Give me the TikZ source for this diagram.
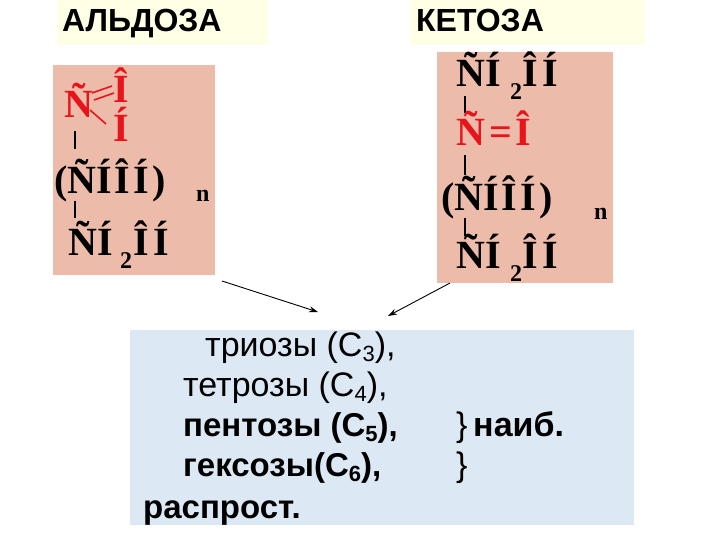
\documentclass[tikz,border=0pt]{standalone}
\usepackage{fontspec}
\usetikzlibrary{arrows.meta}
\setmainfont{Liberation Serif}
\newfontfamily\arial{Liberation Sans}
\begin{document}
\begin{tikzpicture}[x=1pt,y=-1pt,
  form/.style={font=\fontsize{40}{40}\selectfont\bfseries,anchor=base west,inner sep=0},
  sub/.style={font=\fontsize{24}{24}\selectfont\bfseries,anchor=base west,inner sep=0},
  red/.style={text=redc},
  lbl/.style={font=\arial\fontsize{34}{34}\selectfont,anchor=base west,inner sep=0},
  lblb/.style={font=\arial\bfseries\fontsize{33}{33}\selectfont,anchor=base west,inner sep=0},
  ttl/.style={font=\arial\bfseries\fontsize{32}{32}\selectfont,anchor=base west,inner sep=0},
  bond/.style={line width=1.6pt},
  arr/.style={-{Stealth[length=9pt,width=6pt]},line width=0.9pt}]
\definecolor{pink0}{HTML}{EDBBA9}
\definecolor{redc}{HTML}{E8141C}
\definecolor{blue0}{HTML}{DCE8F4}
\definecolor{yel}{HTML}{FFFFE6}
\useasboundingbox (0,0) rectangle (720,540);
\fill[white] (0,0) rectangle (720,540);
% titles
\fill[yel] (57,0) rectangle (268,45);
\fill[yel] (410,0) rectangle (645,45);
\node[ttl] (t1) at (62,32) {АЛЬДОЗА};
\node[ttl] (t2) at (416,32) {КЕТОЗА};
% pink boxes
\fill[pink0] (53,65) rectangle (215,275);
\fill[pink0] (437,52) rectangle (613,283);
% left formula
\node[form,red] (a1) at (64,118) {Ñ};
\node[form,red] (a2) at (113,103) {Î};
\node[form,red] (a3) at (113,142) {Í};
\draw[redc,line width=1.6pt] (92,93) -- (112,86) (94,100) -- (114,93);
\draw[redc,line width=1.6pt] (90,110) -- (106,124);
\draw[bond] (75,131) -- (75,149);
\node[form] (a4) at (54,194) {(ÑÍ\hspace{3pt}Î\hspace{3pt}Í\hspace{3pt})};
\node[sub] (an) at (196,202) {n};
\draw[bond] (75,201) -- (75,218);
\node[form] (a5) at (68,255) {ÑÍ};
\node[sub] (a52) at (120,268) {2};
\node[form] (a6) at (133,255) {Î\hspace{5pt}Í};
% right formula
\node[form] (b1) at (456,87) {ÑÍ};
\node[sub] (b12) at (510,100) {2};
\node[form] (b13) at (522,87) {Î\hspace{5pt}Í};
\draw[bond] (465,96) -- (465,113);
\node[form,red] (b2) at (456,146) {Ñ\hspace{4pt}=\hspace{4pt}Î};
\draw[bond] (465,155) -- (465,175);
\node[form] (b3) at (441,211) {(ÑÍ\hspace{3pt}Î\hspace{3pt}Í\hspace{3pt})};
\node[sub] (bn) at (594,219) {n};
\draw[bond] (465,218) -- (465,236);
\node[form] (b4) at (456,268) {ÑÍ};
\node[sub] (b42) at (510,281) {2};
\node[form] (b43) at (522,268) {Î\hspace{5pt}Í};
% blue box
\fill[blue0] (130,330) rectangle (634,525);
\coordinate (s1) at (222,281);
\coordinate (e1) at (318,312);
\coordinate (s2) at (450,283);
\coordinate (e2) at (388,316);
\draw[arr] (s1) -- (e1);
\draw[arr] (s2) -- (e2);
\node[lbl] (l1) at (205,356) {триозы (С\raisebox{-0.3ex}{\fontsize{22}{22}\selectfont 3}),};
\node[lbl] (l2) at (183,396) {тетрозы (С\raisebox{-0.3ex}{\fontsize{22}{22}\selectfont 4}),};
\node[lblb] (l3) at (183,436) {пентозы (С\raisebox{-0.3ex}{\fontsize{22}{22}\selectfont 5}),};
\node[lblb] (l4) at (183,476) {гексозы(С\raisebox{-0.3ex}{\fontsize{22}{22}\selectfont 6}),};
\node[lblb] (l5) at (143,518) {распрост.};
\node[lbl] (br1) at (456,436) {\}\,\textbf{наиб.}};
\node[lbl] (br2) at (456,476) {\}};
\end{tikzpicture}
\end{document}
